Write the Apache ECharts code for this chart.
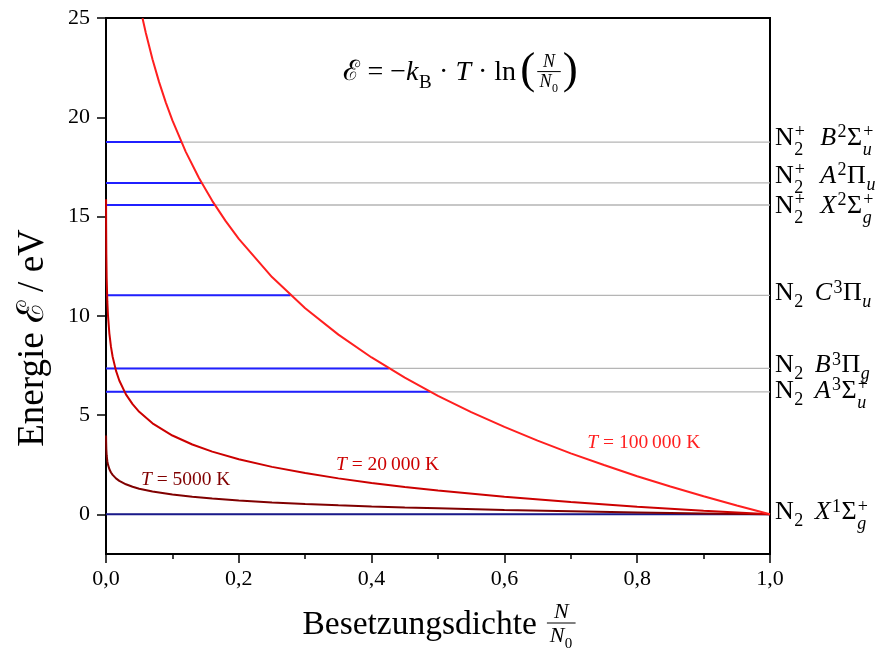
<!DOCTYPE html>
<html>
<head>
<meta charset="utf-8">
<script src="https://cdn.jsdelivr.net/npm/echarts@6/dist/echarts.min.js"></script>
<style>
  html, body { margin: 0; padding: 0; background: #fff; }
  #chart { width: 892px; height: 648px; }
</style>
</head>
<body>
<div id="chart"></div>
<script>
// Occupation N/N0 sampled for the two lower-temperature curves
const occupation = [0.0001, 0.0002, 0.0005, 0.001, 0.002, 0.003, 0.005, 0.0075, 0.01, 0.015, 0.02, 0.03, 0.04, 0.05, 0.07, 0.1, 0.13, 0.16, 0.2, 0.25, 0.3, 0.35, 0.4, 0.45, 0.5, 0.6, 0.7, 0.8, 0.9, 1.0];
// Energy in eV at T = 5000 K
const energy5000 = [3.968, 3.670, 3.275, 2.976, 2.678, 2.503, 2.283, 2.108, 1.984, 1.810, 1.686, 1.511, 1.387, 1.291, 1.146, 0.992, 0.879, 0.790, 0.693, 0.597, 0.519, 0.452, 0.395, 0.344, 0.299, 0.220, 0.154, 0.096, 0.045, 0];
// Energy in eV at T = 20 000 K
const energy20000 = [15.874, 14.679, 13.100, 11.905, 10.711, 10.012, 9.131, 8.433, 7.937, 7.238, 6.742, 6.043, 5.548, 5.163, 4.583, 3.968, 3.516, 3.158, 2.774, 2.389, 2.075, 1.809, 1.579, 1.376, 1.195, 0.880, 0.615, 0.385, 0.182, 0];
// Occupation and energy at T = 100 000 K
const occupation100000 = [0.055, 0.06, 0.07, 0.08, 0.09, 0.1, 0.12, 0.14, 0.16, 0.18, 0.2, 0.25, 0.3, 0.35, 0.4, 0.45, 0.5, 0.55, 0.6, 0.65, 0.7, 0.75, 0.8, 0.85, 0.9, 0.95, 1.0];
const energy100000 = [24.99, 24.24, 22.92, 21.77, 20.75, 19.84, 18.27, 16.94, 15.79, 14.78, 13.87, 11.95, 10.38, 9.05, 7.90, 6.88, 5.97, 5.15, 4.40, 3.71, 3.07, 2.48, 1.92, 1.40, 0.91, 0.44, 0];

const temperatures = [5000, 20000, 100000];

// Electronic states of N2 and N2+
const levelSpecies = ['N2', 'N2', 'N2', 'N2', 'N2+', 'N2+', 'N2+'];
const levelTerm = ['X', 'A', 'B', 'C', 'X', 'A', 'B'];
const levelMultiplicity = ['1', '3', '3', '3', '2', '2', '2'];
const levelLambda = ['Σ', 'Σ', 'Π', 'Π', 'Σ', 'Π', 'Σ'];
const levelParity = ['g', 'u', 'g', 'u', 'g', 'u', 'u'];
const levelReflection = ['+', '+', '', '', '+', '', '+'];
const levelEnergy = [0, 6.17, 7.35, 11.03, 15.58, 16.69, 18.75];
// Occupation where the 100 000 K curve reaches each level
const levelCrossing = [1, 0.488, 0.426, 0.278, 0.164, 0.144, 0.1135];

const yTicks = [0, 5, 10, 15, 20, 25];

// ---------- styling ----------
const SERIF = '"Liberation Serif", "DejaVu Serif", serif';
const curveColors = ['#800000', '#cc0000', '#ff1f1f'];
const grayLevel = '#b5b5b5';
const blueLevel = '#2020ff';
const groundLevel = '#1a1a8a';
// data-space anchors for the annotations
const curveLabelAnchor = [[0.12, 1.74], [0.424, 2.5], [0.81, 3.6]];
const formulaAnchor = [0.534, 22.25];
// vertical pixel nudges that keep the crowded state labels apart
const stateLabelNudge = [-2, -1, -3, -2, 1, -7, -4];

const chart = echarts.init(document.getElementById('chart'));

const series = [];
levelEnergy.forEach((e) => {
  series.push({
    type: 'line', data: [[0, e], [1, e]], symbol: 'none', silent: true, z: 1,
    lineStyle: { color: grayLevel, width: 1.3 }
  });
});
levelEnergy.forEach((e, i) => {
  series.push({
    type: 'line', data: [[0, e], [levelCrossing[i], e]], symbol: 'none', silent: true, z: 2,
    lineStyle: { color: i === 0 ? groundLevel : blueLevel, width: 2 }
  });
});
const curveData = [
  occupation.map((x, i) => [x, energy5000[i]]),
  occupation.map((x, i) => [x, energy20000[i]]),
  occupation100000.map((x, i) => [x, energy100000[i]])
];
curveData.forEach((d, i) => {
  series.push({
    type: 'line', data: d, symbol: 'none', silent: true, z: 3,
    lineStyle: { color: curveColors[i], width: 2 }
  });
});

const fmtTick = (v) => v.toFixed(1).replace('.', ',');

chart.setOption({
  animation: false,
  backgroundColor: '#fff',
  grid: { left: 106, right: 122, top: 18, bottom: 94, show: true, borderColor: '#000', borderWidth: 2, backgroundColor: 'transparent' },
  xAxis: {
    type: 'value', min: 0, max: 1, interval: 0.2,
    axisLine: { onZero: false, lineStyle: { color: '#000', width: 2 } },
    axisTick: { length: 9, lineStyle: { color: '#000', width: 1.5 } },
    minorTick: { show: true, splitNumber: 2, length: 5, lineStyle: { color: '#000', width: 1.5 } },
    splitLine: { show: false },
    axisLabel: { formatter: fmtTick, fontFamily: SERIF, fontSize: 22, color: '#000', margin: 14 }
  },
  yAxis: {
    type: 'value', min: -2, max: 25,
    axisLine: { show: true, onZero: false, lineStyle: { color: '#000', width: 2 } },
    axisTick: { show: true, customValues: yTicks, length: 9, lineStyle: { color: '#000', width: 1.5 } },
    splitLine: { show: false },
    axisLabel: { customValues: yTicks, fontFamily: SERIF, fontSize: 22, color: '#000', margin: 16 }
  },
  series: series
});

// ---------- math-style text built from pieces ----------
const ctx2d = document.createElement('canvas').getContext('2d');
const fontOf = (size, it) => (it ? 'italic ' : '') + size + 'px ' + SERIF;
function measure(s, size, it) { ctx2d.font = fontOf(size, it); return ctx2d.measureText(s).width; }

function mathRow(pieces, size, color, x0) {
  const small = Math.round(size * 0.68);
  let x = x0 || 0;
  const els = [];
  const put = (t, s, it, dx, dy) => els.push({
    type: 'text', x: dx, y: dy, silent: true,
    style: { text: t, font: fontOf(s, it), fill: color, textAlign: 'left', textVerticalAlign: 'middle' }
  });
  pieces.forEach((p) => {
    if (p.gap) { x += p.gap * size; return; }
    if (p.t !== undefined) { put(p.t, size, p.it, x, 0); x += measure(p.t, size, p.it); }
    let w = 0;
    if (p.sup) { put(p.sup, small, p.supIt, x + (p.it ? 1.5 : 1), -0.21 * size); w = Math.max(w, measure(p.sup, small, p.supIt) + 2); }
    if (p.sub) { put(p.sub, small, p.subIt, x + 0.5, (p.sup ? 0.46 : 0.36) * size); w = Math.max(w, measure(p.sub, small, p.subIt) + 1); }
    x += w;
  });
  return { els, width: x - (x0 || 0), end: x };
}

// fraction N / N0 starting at x, bar at y = barY
function fraction(x, size, color, barY) {
  const els = [];
  const num = mathRow([{ t: 'N', it: true }], size, color, 0);
  const den = mathRow([{ t: 'N', it: true, sub: '0' }], size, color, 0);
  const w = Math.max(num.width, den.width) + size * 0.25;
  els.push({ type: 'group', x: x + (w - num.width) / 2, y: barY - size * 0.5, children: num.els });
  els.push({ type: 'group', x: x + (w - den.width) / 2, y: barY + size * 0.58, children: den.els });
  els.push({ type: 'line', silent: true, shape: { x1: x, y1: barY, x2: x + w, y2: barY }, style: { stroke: color, lineWidth: 1 } });
  return { els, width: w };
}

function buildGraphics() {
  const px = (x, y) => chart.convertToPixel({ gridIndex: 0 }, [x, y]);
  const g = [];

  // state labels to the right of the frame
  levelEnergy.forEach((e, i) => {
    const p = px(1, e);
    const pieces = [];
    pieces.push({ t: 'N', sub: '2', sup: levelSpecies[i] === 'N2+' ? '+' : undefined });
    pieces.push({ gap: levelSpecies[i] === 'N2+' ? 0.55 : 0.42 });
    pieces.push({ t: levelTerm[i], it: true, sup: levelMultiplicity[i] });
    pieces.push({ t: levelLambda[i], sup: levelReflection[i] || undefined, sub: levelParity[i], subIt: true });
    const row = mathRow(pieces, 26, '#000', 0);
    g.push({ type: 'group', x: p[0] + 5, y: p[1] + stateLabelNudge[i], children: row.els });
  });

  // temperature labels
  temperatures.forEach((T, i) => {
    const a = px(curveLabelAnchor[i][0], curveLabelAnchor[i][1]);
    const num = T >= 10000 ? T.toLocaleString('en-US').replace(/,/g, '\u2009') : String(T);
    const row = mathRow([{ t: 'T', it: true }, { t: ' = ' + num + ' K' }], 19.5, curveColors[i], 0);
    g.push({ type: 'group', x: a[0] - row.width / 2, y: a[1], children: row.els });
  });

  // Boltzmann relation
  {
    const a = px(formulaAnchor[0], formulaAnchor[1]);
    const s = 28;
    const head = mathRow([
      { t: 'ℰ' }, { t: ' = −' }, { t: 'k', it: true, sub: 'B' }, { t: ' · ' },
      { t: 'T', it: true }, { t: ' · ln' }, { gap: 0.15 }
    ], s, '#000', 0);
    const els = head.els.slice();
    let x = head.end;
    const ps = Math.round(s * 1.6);
    const paren = (ch, xx) => els.push({ type: 'text', x: xx, y: -1, silent: true,
      style: { text: ch, font: ps + 'px ' + SERIF, fill: '#000', textAlign: 'left', textVerticalAlign: 'middle' } });
    paren('(', x); x += measure('(', ps) + 2;
    const fr = fraction(x, 18, '#000', -1);
    fr.els.forEach((e) => els.push(e));
    x += fr.width + 2;
    paren(')', x); x += measure(')', ps);
    g.push({ type: 'group', x: a[0] - x / 2, y: a[1], children: els });
  }

  // y axis title
  g.push({
    type: 'text', x: 33, y: 338, rotation: Math.PI / 2, silent: true,
    style: { text: 'Energie ℰ / eV', font: '37px ' + SERIF, fill: '#000', textAlign: 'center', textVerticalAlign: 'middle' }
  });

  // x axis title
  {
    const left = px(0, 0)[0], right = px(1, 0)[0];
    const cx = (left + right) / 2 + 1;
    const title = mathRow([{ t: 'Besetzungsdichte' }, { gap: 0.3 }], 33.5, '#000', 0);
    const els = title.els.slice();
    const fr = fraction(title.end, 22, '#000', -2);
    fr.els.forEach((e) => els.push(e));
    const w = title.end + fr.width;
    g.push({ type: 'group', x: cx - w / 2, y: 625, children: els });
  }
  return g;
}

chart.setOption({ graphic: buildGraphics() });
</script>
</body>
</html>
